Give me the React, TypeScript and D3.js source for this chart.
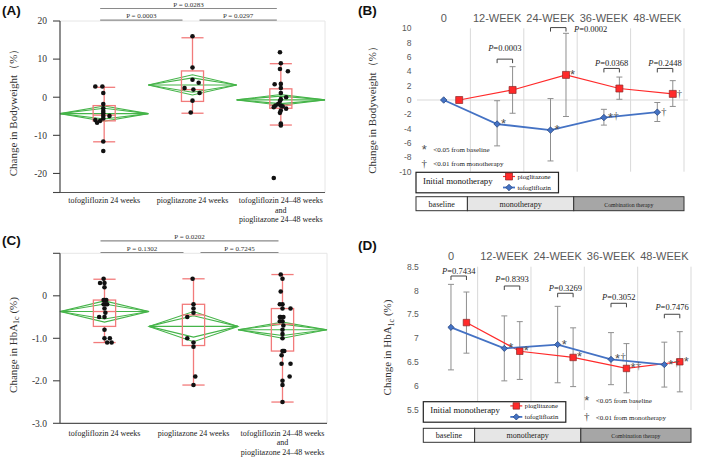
import React from "react";
import * as d3 from "d3";

const SERIF = "'Liberation Serif', 'Times New Roman', serif";
const SANS = "'Liberation Sans', Arial, sans-serif";
const BOX_RED = "#f27b7b";
const DIA_GREEN = "#45b449";
const PIO_RED = "#ff2a2a";
const TOFO_BLUE = "#4472c4";

// ---------- box plot panels (A, C) ----------
const groupKeys = ["tofo24", "pio24", "combo"];
const groupLabels = [
  ["tofogliflozin 24 weeks"],
  ["pioglitazone 24 weeks"],
  ["tofogliflozin 24–48 weeks", "and", "pioglitazone 24–48 weeks"],
];

// body weight change (%)
const bwTofo24 = [2.8, 2.8, 1.1, -1.8, -2.9, -3.6, -4.2, -4.9, -4.9, -5.6, -6.0, -6.2, -6.7, -11.6, -14.1];
const bwTofo24Jit = [-0.1, -0.02, -0.01, -0.01, -0.01, -0.01, -0.01, -0.01, 0.06, -0.01, -0.1, -0.045, -0.08, -0.01, -0.01];
const bwPio24 = [16.0, 7.8, 4.6, 3.8, 2.4, 2.0, 1.1, -0.9, -4.0];
const bwPio24Jit = [0, 0, 0, 0.07, -0.09, 0.01, 0.08, 0, -0.02];
const bwCombo = [11.8, 8.9, 7.4, 6.8, 3.4, 3.5, 2.4, 1.1, 0, -0.5, -1.0, -1.8, -2.2, -2.2, -2.4, -3.0, -2.6, -3.5, -4.1, -6.9, -7.4, -21.2];
const bwComboJit = [-0.01, 0, -0.01, 0.08, -0.07, 0, 0, 0, 0.06, 0, -0.01, -0.03, -0.06, 0, 0.02, 0.06, -0.08, 0, -0.01, 0, 0, -0.08];
const bwBoxes = [
  { lo: -11.7, q1: -6.2, med: -4.7, q3: -2.2, hi: 2.6 },
  { lo: -4.2, q1: -1.1, med: 2.0, q3: 6.9, hi: 15.6 },
  { lo: -7.3, q1: -2.9, med: -2.1, q3: 2.2, hi: 8.8 },
];
const bwDiamonds = [
  { mean: -4.3, lo: -6.3, hi: -2.3 },
  { mean: 3.2, lo: 0.6, hi: 5.9 },
  { mean: -0.7, lo: -2.1, hi: 0.7 },
];
const bwPvals = [
  { a: 0, b: 2, row: 0, text: "P = 0.0283" },
  { a: 0, b: 1, row: 1, text: "P = 0.0003" },
  { a: 1, b: 2, row: 1, text: "P = 0.0297" },
];
const bwTicks = [20, 10, 0, -10, -20, -25];
const bwTickLabels = ["20", "10", "0", "-10", "-20", ""];

// HbA1c change (%)
const hbTofo24 = [0.4, 0.3, 0.3, 0.2, -0.1, -0.1, -0.1, -0.2, -0.2, -0.2, -0.3, -0.4, -0.5, -0.5, -0.8, -1.0, -1.0, -1.1, -1.1];
const hbTofo24Jit = [-0.01, -0.05, 0, 0, 0, 0.02, -0.01, 0.01, 0.03, -0.01, 0, 0.01, -0.06, 0, 0, 0, 0.06, 0.03, 0.08];
const hbPio24 = [0.4, -0.2, -0.3, -0.4, -0.5, -1.0, -1.1, -1.2, -1.9, -2.1];
const hbPio24Jit = [-0.01, 0, 0, 0, -0.07, -0.07, 0, 0, 0.02, 0];
const hbCombo = [0.5, 0.4, 0.1, -0.2, -0.2, -0.3, -0.3, -0.5, -0.5, -0.5, -0.6, -0.6, -0.7, -0.8, -0.9, -1.0, -1.3, -1.3, -1.3, -1.4, -1.6, -1.6, -1.9, -2.0, -2.1, -2.5];
const hbComboJit = [-0.02, 0, -0.02, -0.03, 0, 0.09, 0, -0.02, -0.03, 0.01, -0.03, 0, 0.01, 0, 0, 0, 0.01, 0.02, 0, -0.01, -0.01, 0.09, 0.08, 0, 0, 0];
const hbBoxes = [
  { lo: -1.1, q1: -0.72, med: -0.37, q3: -0.1, hi: 0.39 },
  { lo: -2.1, q1: -1.17, med: -0.45, q3: -0.2, hi: 0.4 },
  { lo: -2.5, q1: -1.3, med: -0.67, q3: -0.3, hi: 0.5 },
];
const hbDiamonds = [
  { mean: -0.37, lo: -0.62, hi: -0.12 },
  { mean: -0.72, lo: -1.08, hi: -0.37 },
  { mean: -0.8, lo: -1.0, hi: -0.62 },
];
const hbPvals = [
  { a: 0, b: 2, row: 0, text: "P = 0.0202" },
  { a: 0, b: 1, row: 1, text: "P = 0.1302" },
  { a: 1, b: 2, row: 1, text: "P = 0.7245" },
];
const hbTicks = [1, 0, -1, -2, -3];
const hbTickLabels = ["", "0", "-1.0", "-2.0", "-3.0"];

// ---------- time course panels (B, D) ----------
const weeks = [0, 12, 24, 36, 48];
const weekLabels = ["0", "12-WEEK", "24-WEEK", "36-WEEK", "48-WEEK"];
const phases = ["baseline", "monotherapy", "Combination therapy"];

const bwPioMean = [0, 1.4, 3.5, 1.6, 0.85];
const bwPioHi = [null, 4.65, 9.3, 3.2, 2.7];
const bwPioLo = [null, -1.85, -2.3, 0.1, -0.9];
const bwTofoMean = [0, -3.35, -4.2, -2.45, -1.7];
const bwTofoHi = [null, -0.1, 0.2, -1.3, -0.35];
const bwTofoLo = [null, -6.4, -8.5, -3.5, -3.0];
const bwPioMarks = ["", "", "*", "", "†"];
const bwTofoMarks = ["", "*", "*", "*†", "†"];
const bwBrackets = [
  { week: 12, level: 5.7, textLevel: 6.8, text: "0.0003", side: "mid" },
  { week: 24, level: 10.1, textLevel: 9.55, text: "0.0002", side: "right" },
  { week: 36, level: 4.4, textLevel: 4.8, text: "0.0368", side: "mid" },
  { week: 48, level: 4.4, textLevel: 4.8, text: "0.2448", side: "mid" },
];

const hbPioMean = [7.33, 6.73, 6.6, 6.37, 6.51];
const hbPioHi = [7.97, 7.35, 7.22, 6.89, 7.14];
const hbPioLo = [6.69, 6.14, 5.99, 5.86, 5.88];
const hbTofoMean = [7.23, 6.79, 6.87, 6.56, 6.45];
const hbTofoHi = [8.13, 7.47, 7.67, 7.12, 6.92];
const hbTofoLo = [6.34, 6.11, 6.07, 6.03, 5.98];
const hbPioMarks = ["", "*", "*", "*†", "*"];
const hbTofoMarks = ["", "*", "*", "*†", "*†"];
const hbBrackets = [
  { week: 0, level: 8.305, textLevel: 8.347, text: "0.7434", side: "mid" },
  { week: 12, level: 8.096, textLevel: 8.174, text: "0.8393", side: "mid" },
  { week: 24, level: 7.944, textLevel: 7.998, text: "0.3269", side: "mid" },
  { week: 36, level: 7.734, textLevel: 7.803, text: "0.3052", side: "mid" },
  { week: 48, level: 7.504, textLevel: 7.594, text: "0.7476", side: "mid" },
];

const HbA1c = ({ suffix }: { suffix: string }) => (
  <>
    <tspan>Change in HbA</tspan>
    <tspan fontSize={8} dy={2.5}>1c</tspan>
    <tspan dy={-2.5}>{suffix}</tspan>
  </>
);

function BoxPanel(p: any) {
  const x = d3.scaleBand<string>().domain(groupKeys).range([p.left, p.right]);
  const bw = x.bandwidth();
  const y = d3.scaleLinear().domain(p.domain).range([p.bottom, p.top]);
  const cx = (i: number) => x(groupKeys[i])! + bw / 2;
  const boxW = bw * 0.25;
  const rows = [p.top - 12.5, p.top - 0.8];

  return (
    <g>
      <text x={2} y={p.tagY} fontFamily={SANS} fontWeight="bold" fontSize={13.5} fill="#111">{p.tag}</text>
      {/* faint frame */}
      <path d={`M${p.left},${p.top}H${p.right}V${p.bottom}`} fill="none" stroke="#e6e6e6" />
      {/* P value bars */}
      {p.pvals.map((pv: any, i: number) => {
        const x1 = cx(pv.a) + (pv.a === 1 ? 7 : -4);
        const x2 = cx(pv.b) + (pv.b === 1 ? -10 : -4);
        const ly = rows[pv.row];
        return (
          <g key={i}>
            <line x1={x1} x2={x2} y1={ly} y2={ly} stroke="#8a8a8a" strokeWidth={1.2} />
            <text x={(x1 + x2) / 2} y={ly - 2} textAnchor="middle" fontFamily={SERIF} fontSize={7} fill="#333">{pv.text}</text>
          </g>
        );
      })}
      {/* diamonds */}
      {p.diamonds.map((d: any, i: number) => {
        const c = cx(i), x0 = c - bw / 2, x1 = c + bw / 2;
        const ym = y(d.mean);
        const half = (d.hi - d.lo) / 2 / Math.SQRT2;
        return (
          <g key={i} fill="none" stroke={DIA_GREEN} strokeWidth={1.1}>
            <path d={`M${x0},${ym}L${c},${y(d.hi)}L${x1},${ym}L${c},${y(d.lo)}Z`} />
            <path d={`M${x0},${ym}L${c},${y(d.mean + half)}L${x1},${ym}L${c},${y(d.mean - half)}Z`} />
            <line x1={x0} x2={x1} y1={ym} y2={ym} />
          </g>
        );
      })}
      {/* boxes */}
      {p.boxes.map((b: any, i: number) => {
        const c = cx(i);
        return (
          <g key={i} fill="none" stroke={BOX_RED} strokeWidth={1.3}>
            <line x1={c} x2={c} y1={y(b.hi)} y2={y(b.q3)} />
            <line x1={c} x2={c} y1={y(b.q1)} y2={y(b.lo)} />
            <line x1={c - boxW / 2} x2={c + boxW / 2} y1={y(b.hi)} y2={y(b.hi)} />
            <line x1={c - boxW / 2} x2={c + boxW / 2} y1={y(b.lo)} y2={y(b.lo)} />
            <rect x={c - boxW / 2} y={y(b.q3)} width={boxW} height={y(b.q1) - y(b.q3)} />
            <line x1={c - boxW / 2} x2={c + boxW / 2} y1={y(b.med)} y2={y(b.med)} />
          </g>
        );
      })}
      {/* points */}
      {p.sets.map((vals: number[], i: number) =>
        vals.map((v, j) => (
          <circle key={`${i}-${j}`} cx={cx(i) + p.jitters[i][j] * bw} cy={y(v)} r={2.3} fill="#111" />
        ))
      )}
      {/* axes */}
      <line x1={p.left} x2={p.left} y1={p.top} y2={p.bottom} stroke="#444" strokeWidth={1.2} />
      <line x1={p.left} x2={p.right} y1={p.bottom} y2={p.bottom} stroke="#555" strokeWidth={1.2} />
      {p.ticks.map((t: number, i: number) => (
        <g key={t}>
          <line x1={p.left - 7} x2={p.left} y1={y(t)} y2={y(t)} stroke="#444" strokeWidth={1.1} />
          <text x={p.left - 13} y={y(t)} dy="0.35em" textAnchor="end" fontFamily={SERIF} fontSize={9.5} fill="#333">{p.tickLabels[i]}</text>
        </g>
      ))}
      {groupLabels.map((lines, i) => (
        <text key={i} textAnchor="middle" fontFamily={SERIF} fontSize={8} fill="#222">
          {lines.map((l, k) => (
            <tspan key={k} x={cx(i)} y={p.bottom + p.catOffset + k * 9.5}>{l}</tspan>
          ))}
        </text>
      ))}
      <text transform={`translate(${p.labelX},${p.labelY}) rotate(-90)`} textAnchor="middle" fontFamily={SERIF} fontSize={11} fill="#333">
        {p.yLabel}
      </text>
    </g>
  );
}

function LinePanel(p: any) {
  const x = d3.scaleBand<number>().domain(weeks).range([p.left, p.right]);
  const bw = x.bandwidth();
  const y = d3.scaleLinear().domain(p.domain).range([p.bottom, p.top]);
  const tx = (w: number) => x(w)! + bw * 0.5;
  const px = (w: number) => x(w)! + bw * 0.79;
  const series = [
    { key: "pio", xf: px, mean: p.pioMean, hi: p.pioHi, lo: p.pioLo, color: PIO_RED, lw: 1.2, marks: p.pioMarks },
    { key: "tofo", xf: tx, mean: p.tofoMean, hi: p.tofoHi, lo: p.tofoLo, color: TOFO_BLUE, lw: 1.8, marks: p.tofoMarks },
  ];
  const square = d3.symbol(d3.symbolSquare, p.sq * p.sq)()!;
  const diamond = d3.symbol(d3.symbolSquare, p.dm * p.dm)()!;
  const lineGen = (s: any) =>
    d3.line<number>().x((_, i) => s.xf(weeks[i])).y((v) => y(v))(s.mean)!;
  const lg = p.left - 1;
  const legW = 142.5;
  const bounds = [lg, x(12)! - 3, x(36)! - 3.5, p.right];
  const fills = ["#ffffff", "#e6e6e6", "#a6a6a6"];
  const fsz = [8, 8, 5.8];

  const marker = (key: string, cxp: number, cyp: number, k: any) =>
    key === "pio" ? (
      <path key={k} d={square} transform={`translate(${cxp},${cyp})`} fill={PIO_RED} stroke="#8c2a2a" strokeWidth={0.7} />
    ) : (
      <path key={k} d={diamond} transform={`translate(${cxp},${cyp}) rotate(45)`} fill={TOFO_BLUE} stroke="#24427a" strokeWidth={0.7} />
    );

  return (
    <g>
      <text x={358} y={p.tagY} fontFamily={SANS} fontWeight="bold" fontSize={13.5} fill="#111">{p.tag}</text>
      {weeks.map((w, i) => (
        <text key={w} x={tx(w)} y={p.weekY} textAnchor="middle" fontFamily={SANS} fontSize={11} fill="#595959">{weekLabels[i]}</text>
      ))}
      {/* grid */}
      {weeks.map((w) => (
        <line key={w} x1={x(w)! + bw} x2={x(w)! + bw} y1={p.top} y2={p.bottom} stroke="#d9d9d9" strokeWidth={1} />
      ))}
      {p.zeroLine && (
        <line x1={p.left} x2={p.right + 4} y1={y(0)} y2={y(0)} stroke="#d9d9d9" strokeWidth={1} />
      )}
      {y.ticks(p.tickCount).map((t) => (
        <text key={t} x={p.left - 5.5} y={y(t)} dy="0.35em" textAnchor="end" fontFamily={SANS} fontSize={8.5} fill="#595959">{String(t)}</text>
      ))}
      {/* error bars */}
      {series.map((s) =>
        weeks.map((w, i) => {
          if (s.hi[i] == null) return null;
          const xx = s.xf(w);
          return (
            <g key={s.key + w} stroke="#8f8f8f" strokeWidth={1}>
              <line x1={xx} x2={xx} y1={y(s.hi[i])} y2={y(s.lo[i])} />
              <line x1={xx - 3} x2={xx + 3} y1={y(s.hi[i])} y2={y(s.hi[i])} />
              <line x1={xx - 3} x2={xx + 3} y1={y(s.lo[i])} y2={y(s.lo[i])} />
            </g>
          );
        })
      )}
      {series.map((s) => (
        <path key={s.key} d={lineGen(s)} fill="none" stroke={s.color} strokeWidth={s.lw} />
      ))}
      {[series[1], series[0]].map((s) => weeks.map((w, i) => marker(s.key, s.xf(w), y(s.mean[i]), s.key + w)))}
      {/* significance marks */}
      {series.map((s) =>
        weeks.map((w, i) => {
          const m: string = s.marks[i];
          if (!m) return null;
          const star = m.includes("*");
          return (
            <text key={"m" + s.key + w} x={s.xf(w) + 4} y={y(s.mean[i]) + 4} fontFamily={SANS} fontSize={13} fill="#505050">
              {star && <tspan>*</tspan>}
              {m.includes("†") && (
                <tspan fontFamily={SERIF} fontSize={10.5} dx={star ? 0.5 : 0} dy={star ? -3 : -1}>†</tspan>
              )}
            </text>
          );
        })
      )}
      {/* P brackets */}
      {p.brackets.map((b: any) => {
        const x1 = tx(b.week), x2 = px(b.week), by = y(b.level);
        return (
          <g key={b.week}>
            <path d={`M${x1},${by + 4}V${by}H${x2}V${by + 4}`} fill="none" stroke="#444" strokeWidth={1} />
            <text
              x={b.side === "right" ? x2 + 8 : (x1 + x2) / 2}
              y={y(b.textLevel)}
              textAnchor={b.side === "right" ? "start" : "middle"}
              fontFamily={SERIF}
              fontSize={8.5}
              fill="#222"
            >
              <tspan fontStyle="italic">P</tspan>={b.text}
            </text>
          </g>
        );
      })}
      {/* footnotes */}
      <g fontFamily={SERIF} fill="#444">
        <text x={p.noteX} y={p.noteY[0] + 6} textAnchor="middle" fontFamily={SANS} fontSize={13} fill="#505050">*</text>
        <text x={p.noteX + 9} y={p.noteY[0] + 3.5} fontSize={7} fill="#222">&lt;0.05 from baseline</text>
        <text x={p.noteX} y={p.noteY[1] + 3.5} textAnchor="middle" fontSize={11}>†</text>
        <text x={p.noteX + 9} y={p.noteY[1] + 3} fontSize={7} fill="#222">&lt;0.01 from monotherapy</text>
      </g>
      {/* legend */}
      <rect x={lg} y={p.legendTop} width={legW} height={20.5} fill="#fff" stroke="#222" strokeWidth={1.2} />
      <text x={lg + 7} y={p.legendTop + 11.5} fontFamily={SERIF} fontSize={8.8} fill="#111">Initial monotherapy</text>
      {series.map((s, i) => {
        const ry = p.legendTop + (i === 0 ? 4.2 : 15.2);
        return (
          <g key={"lg" + s.key}>
            <line x1={lg + 87} x2={lg + 99} y1={ry} y2={ry} stroke={s.color} strokeWidth={s.lw} />
            {marker(s.key, lg + 93, ry, "lm")}
            <text x={lg + 101.5} y={ry + 2.3} fontFamily={SERIF} fontSize={6.7} fill="#111">{s.key === "pio" ? "pioglitazone" : "tofogliflozin"}</text>
          </g>
        );
      })}
      {/* phase bar */}
      {phases.map((ph, i) => (
        <g key={ph}>
          <rect x={bounds[i]} y={p.barTop} width={bounds[i + 1] - bounds[i]} height={14} fill={fills[i]} stroke="#333" strokeWidth={1} />
          <text x={(bounds[i] + bounds[i + 1]) / 2} y={p.barTop + 10} textAnchor="middle" fontFamily={SERIF} fontSize={fsz[i]} fill="#222">{ph}</text>
        </g>
      ))}
      <text transform={`translate(${p.labelX},${p.labelY}) rotate(-90)`} textAnchor="middle" fontFamily={SERIF} fontSize={11} fill="#333">
        {p.yLabel}
      </text>
    </g>
  );
}

export default function App() {
  return (
    <div style={{ position: "absolute", left: 0, top: 0 }}>
      <svg width={709} height={461} style={{ display: "block", background: "#fff" }}>
        <BoxPanel
          tag="(A)" tagY={14.5}
          left={60} right={325} top={21} bottom={192.5}
          domain={[-25, 20]} ticks={bwTicks} tickLabels={bwTickLabels}
          sets={[bwTofo24, bwPio24, bwCombo]} jitters={[bwTofo24Jit, bwPio24Jit, bwComboJit]}
          boxes={bwBoxes} diamonds={bwDiamonds} pvals={bwPvals}
          catOffset={10.5} labelX={17} labelY={110}
          yLabel="Change in Bodyweight（%）"
        />
        <BoxPanel
          tag="(C)" tagY={244.5}
          left={60} right={327} top={253.3} bottom={423.3}
          domain={[-3, 1]} ticks={hbTicks} tickLabels={hbTickLabels}
          sets={[hbTofo24, hbPio24, hbCombo]} jitters={[hbTofo24Jit, hbPio24Jit, hbComboJit]}
          boxes={hbBoxes} diamonds={hbDiamonds} pvals={hbPvals}
          catOffset={12.5} labelX={16.5} labelY={345}
          yLabel={<HbA1c suffix=" (%)" />}
        />
        <LinePanel
          tag="(B)" tagY={14.5}
          left={417} right={684} top={28.3} bottom={171.7}
          domain={[-10, 10]} tickCount={10} weekY={21.5} zeroLine
          pioMean={bwPioMean} pioHi={bwPioHi} pioLo={bwPioLo}
          tofoMean={bwTofoMean} tofoHi={bwTofoHi} tofoLo={bwTofoLo}
          pioMarks={bwPioMarks} tofoMarks={bwTofoMarks} brackets={bwBrackets}
          sq={7} dm={4.6}
          noteX={424.3} noteY={[148.3, 163.3]}
          legendTop={172.3} barTop={196.7}
          labelX={376} labelY={107.5}
          yLabel="Change in Bodyweight（%）"
        />
        <LinePanel
          tag="(D)" tagY={249.5}
          left={424.3} right={691} top={266.7} bottom={410}
          domain={[5.5, 8.5]} tickCount={6} weekY={259.5}
          pioMean={hbPioMean} pioHi={hbPioHi} pioLo={hbPioLo}
          tofoMean={hbTofoMean} tofoHi={hbTofoHi} tofoLo={hbTofoLo}
          pioMarks={hbPioMarks} tofoMarks={hbTofoMarks} brackets={hbBrackets}
          sq={6.5} dm={4.4}
          noteX={586.7} noteY={[399.3, 416.7]}
          legendTop={401.7} barTop={428.3}
          labelX={391} labelY={347.5}
          yLabel={<HbA1c suffix=" (%)" />}
        />
      </svg>
    </div>
  );
}
